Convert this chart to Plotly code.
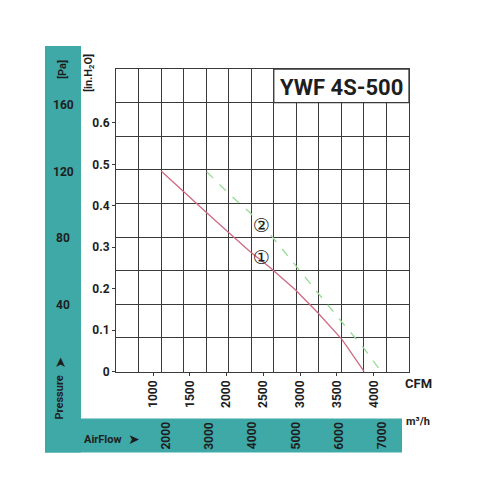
import plotly.graph_objects as go

# fan curves (CFM vs in.H2O)
curve1_cfm = [1110, 1410, 1730, 2020, 2320, 2590, 2930, 3240, 3570, 3870]
curve1_inh2o = [0.484, 0.434, 0.383, 0.337, 0.289, 0.251, 0.198, 0.142, 0.077, 0.0]
curve2_cfm = [1730, 2020, 2320, 2620, 2960, 3240, 3540, 3850, 4080]
curve2_inh2o = [0.482, 0.431, 0.383, 0.325, 0.251, 0.190, 0.125, 0.060, 0.005]

curve_labels = ["①", "②"]
label_cfm = [2470, 2470]
label_inh2o = [0.270, 0.347]

cfm_ticks = [1000, 1500, 2000, 2500, 3000, 3500, 4000]
inh2o_ticks = [0, 0.1, 0.2, 0.3, 0.4, 0.5, 0.6]
pa_ticks = [40, 80, 120, 160]
m3h_ticks = [2000, 3000, 4000, 5000, 6000, 7000]

model = "YWF 4S-500"

PA_PER_INH2O = 249.09
M3H_PER_CFM = 1.699

TEAL = "#3fa9a8"
GRID = "#3a3a3a"
INK = "#1e1e1e"
FONT = "Roboto"

# page adds an 8px body margin, and the snapshot comes out ~1.3% short vertically,
# so screen pixels are mapped back to paper fractions here
SIZE = 484
YSQUASH = 0.987

def px(x):
    return (x - 8) / SIZE

def py(y):
    return 1 - (y / YSQUASH - 8) / SIZE

fig = go.Figure()

fig.add_trace(go.Scatter(x=curve1_cfm, y=curve1_inh2o, xaxis="x2", yaxis="y2",
                         mode="lines", line=dict(color="#cf6a82", width=1.3),
                         hoverinfo="skip"))
fig.add_trace(go.Scatter(x=curve2_cfm, y=curve2_inh2o, xaxis="x2", yaxis="y2",
                         mode="lines", line=dict(color="#95dc95", width=1.3, dash="dash"),
                         hoverinfo="skip"))
fig.add_trace(go.Scatter(x=label_cfm, y=label_inh2o, xaxis="x2", yaxis="y2",
                         mode="text", text=curve_labels,
                         textfont=dict(size=19, color=INK, family="DejaVu Sans"),
                         hoverinfo="skip"))

grid_axis = dict(dtick=1, showgrid=True, gridcolor=GRID, gridwidth=1.3,
                 showticklabels=False, ticks="", zeroline=False,
                 showline=True, mirror=True, linecolor=GRID, linewidth=1.3,
                 fixedrange=True)
tick_font = dict(family=FONT, size=12, color=INK, weight="bold")
plain = dict(showgrid=False, zeroline=False, showline=False, tickfont=tick_font,
             fixedrange=True)

fig.update_layout(
    width=SIZE, height=SIZE,
    margin=dict(l=0, r=0, t=0, b=0),
    paper_bgcolor="white", plot_bgcolor="white",
    showlegend=False,
    font=dict(family=FONT, color=INK),
    xaxis=dict(domain=[px(116), px(409)], range=[0, 13], **grid_axis),
    yaxis=dict(domain=[py(372), py(69)], range=[0, 9], **grid_axis),
    xaxis2=dict(overlaying="x", anchor="y2", range=[497, 4479], tickvals=cfm_ticks,
                tickangle=-90, ticks="outside", ticklen=3, tickcolor=GRID, **plain),
    yaxis2=dict(overlaying="y", anchor="x2", range=[0, 0.73], tickvals=inh2o_ticks,
                ticks="outside", ticklen=3, tickcolor=GRID, **plain),
)

# teal L-shaped frame
fig.add_shape(type="rect", xref="paper", yref="paper", x0=px(45), x1=px(81), y0=py(453), y1=py(46),
              fillcolor=TEAL, line_width=0, layer="below")
fig.add_shape(type="rect", xref="paper", yref="paper", x0=px(45), x1=px(402), y0=py(453), y1=py(419),
              fillcolor=TEAL, line_width=0, layer="below")
# model name box over the grid
fig.add_shape(type="rect", xref="x", yref="y", x0=7, x1=13, y0=8, y1=9,
              fillcolor="white", line=dict(color=GRID, width=1.3), layer="above")

# Pa scale on the teal band, placed through the in.H2O axis
for v in pa_ticks:
    fig.add_annotation(text=str(v), x=px(63), y=v / PA_PER_INH2O, xref="paper", yref="y2",
                       xanchor="center", yanchor="middle", showarrow=False,
                       font=tick_font)
# m3/h scale on the bottom band, placed through the CFM axis
for v in m3h_ticks:
    fig.add_annotation(text=str(v), x=v / M3H_PER_CFM, y=py(436), xref="x2", yref="paper",
                       xanchor="center", yanchor="middle", showarrow=False,
                       textangle=-90, font=tick_font)

def note(text, x, y, size=12, angle=0, family=FONT):
    fig.add_annotation(text=text, x=px(x), y=py(y), xref="paper", yref="paper",
                       xanchor="center", yanchor="middle",
                       showarrow=False, textangle=angle,
                       font=dict(size=size, color=INK, family=family, weight="bold"))

note(model, 341, 88, size=22)
note("[Pa]", 62, 70, size=11, angle=-90)
note("[in.H<sub>2</sub>O]", 89, 73, size=11, angle=-90)
note("Pressure", 60, 398, size=11, angle=-90)
note("➤", 60, 363, size=14, angle=-90, family="DejaVu Sans")
note("AirFlow", 103, 440, size=11)
note("➤", 134, 440, size=14, family="DejaVu Sans")
note("CFM", 418, 384, size=13)
note("m³/h", 418, 422, size=11)

fig.write_html("out.html")
